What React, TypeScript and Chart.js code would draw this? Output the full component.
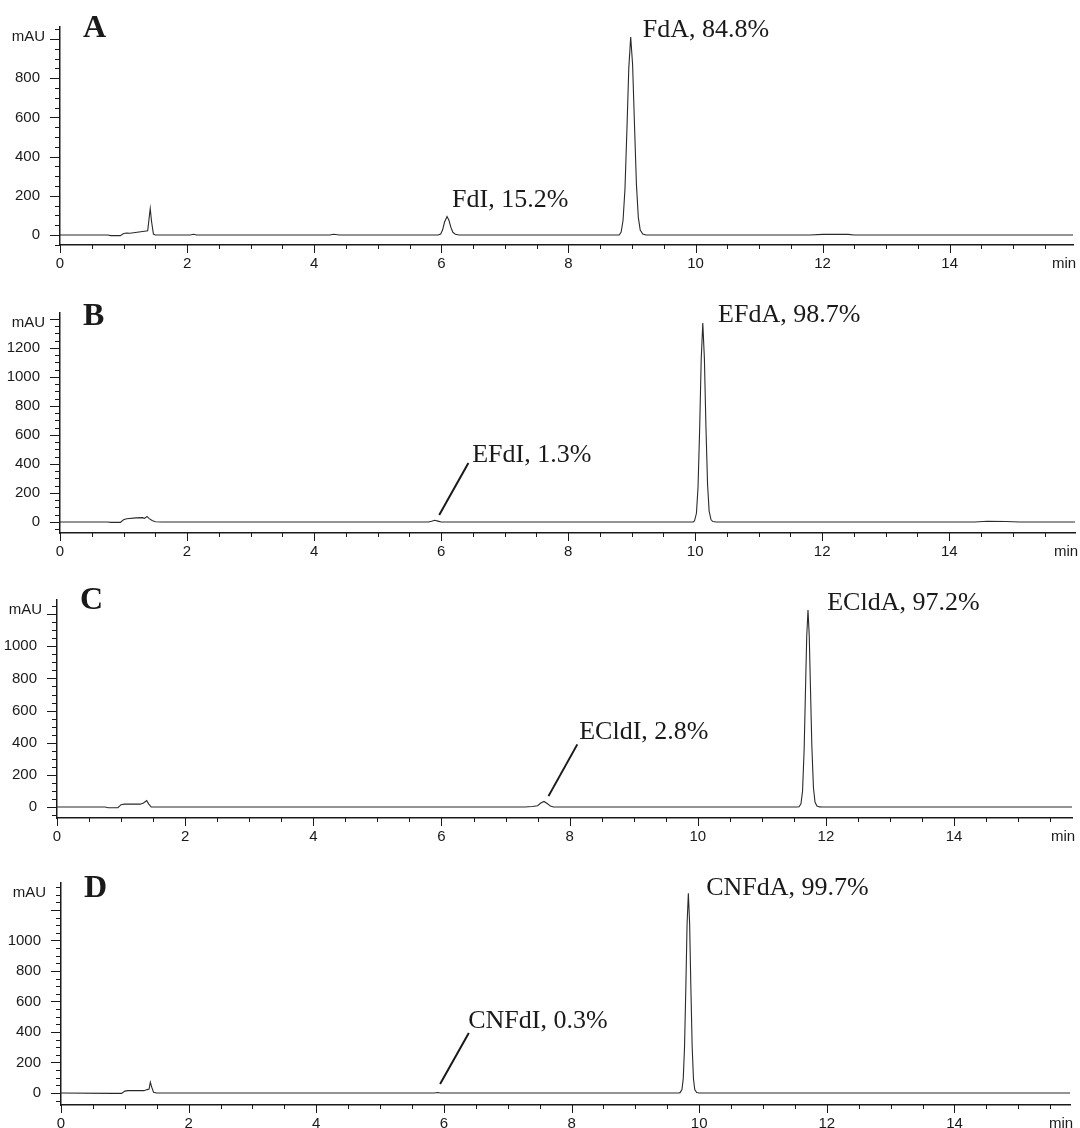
import React, { useEffect, useRef } from 'react';
import { Chart, registerables } from 'chart.js';

Chart.register(...registerables);

// ---------- Data (retention time in min, absorbance in mAU) ----------
const timesA = [0, 0.75, 0.8, 0.95, 1.0, 1.05, 1.1, 1.3, 1.38, 1.4, 1.42, 1.44, 1.47, 1.5, 2.05, 2.1, 2.15, 4.25, 4.3, 4.4, 5.95, 5.99, 6.02, 6.05, 6.09, 6.12, 6.15, 6.18, 6.22, 6.28, 8.8, 8.83, 8.86, 8.89, 8.92, 8.95, 8.98, 9.01, 9.04, 9.07, 9.1, 9.13, 9.17, 9.22, 11.8, 12.0, 12.4, 12.5, 15.94];
const valuesA = [0, 0, -3, -3, 8, 10, 9, 18, 22, 80, 135, 70, 5, 0, 0, 4, 0, 0, 4, 0, 0, 5, 25, 65, 94, 75, 40, 15, 4, 0, 0, 15, 75, 235, 530, 850, 1010, 870, 560, 260, 90, 25, 5, 0, 0, 3, 3, 0, 0];

const timesB = [0, 0.75, 0.8, 0.95, 1.0, 1.05, 1.2, 1.3, 1.33, 1.37, 1.4, 1.45, 1.5, 1.6, 5.8, 5.85, 5.9, 5.95, 6.0, 9.97, 9.99, 10.02, 10.045, 10.07, 10.095, 10.12, 10.145, 10.17, 10.195, 10.22, 10.25, 10.28, 10.33, 14.4, 14.6, 14.9, 15.1, 15.98];
const valuesB = [0, 0, -3, -3, 15, 22, 28, 30, 25, 38, 25, 10, 2, 0, 0, 5, 12, 6, 0, 0, 8, 60, 240, 630, 1120, 1372, 1130, 650, 260, 75, 15, 3, 0, 0, 5, 3, 0, 0];

const timesC = [0, 0.75, 0.8, 0.95, 1.0, 1.05, 1.3, 1.35, 1.4, 1.43, 1.47, 7.3, 7.42, 7.5, 7.55, 7.6, 7.65, 7.7, 7.75, 11.55, 11.58, 11.61, 11.635, 11.66, 11.685, 11.7, 11.72, 11.74, 11.755, 11.78, 11.805, 11.83, 11.86, 11.9, 11.95, 15.84];
const valuesC = [0, 0, -4, -4, 15, 18, 18, 25, 40, 20, 0, 0, 4, 8, 25, 35, 22, 6, 0, 0, 2, 20, 100, 360, 800, 1060, 1226, 1060, 800, 380, 120, 30, 6, 1, 0, 0];

const timesD = [0, 0.8, 0.95, 1.0, 1.05, 1.3, 1.35, 1.38, 1.4, 1.42, 1.45, 1.5, 5.85, 5.9, 5.95, 9.68, 9.7, 9.73, 9.75, 9.77, 9.79, 9.81, 9.83, 9.85, 9.87, 9.89, 9.91, 9.93, 9.96, 10.0, 15.81];
const valuesD = [0, -3, -3, 12, 15, 15, 22, 25, 70, 40, 5, 0, 0, 3, 0, 0, 2, 22, 95, 300, 680, 1110, 1310, 1110, 680, 300, 95, 22, 3, 0, 0];

// ---------- Tick labels ----------
const xTickLabels = [0, 2, 4, 6, 8, 10, 12, 14];
const yTickLabelsA = [0, 200, 400, 600, 800];
const yTickLabelsB = [0, 200, 400, 600, 800, 1000, 1200];
const yTickLabelsC = [0, 200, 400, 600, 800, 1000];
const yTickLabelsD = [0, 200, 400, 600, 800, 1000];

// ---------- Peak annotations ----------
const peakLabelsA = ['FdA, 84.8%', 'FdI, 15.2%'];
const peakLabelsB = ['EFdA, 98.7%', 'EFdI, 1.3%'];
const peakLabelsC = ['ECldA, 97.2%', 'ECldI, 2.8%'];
const peakLabelsD = ['CNFdA, 99.7%', 'CNFdI, 0.3%'];

const SANS = '"Liberation Sans", Arial, sans-serif';
const SERIF = '"Liberation Serif", "Times New Roman", serif';
const INK = '#1a1a1a';

type Panel = {
  letter: string;
  times: number[];
  values: number[];
  yLabels: number[];
  labels: string[];
  anchors: { x: number; y: number }[];
  leader?: { x1: number; y1: number; x2: number; y2: number };
  top: number;
  height: number;
  areaTop: number;
  areaBottom: number;
  areaLeft: number;
  areaRight: number;
  yMin: number;
  yMax: number;
  xMax: number;
  letterDy: number;
};

const panels: Panel[] = [
  {
    letter: 'A', times: timesA, values: valuesA, yLabels: yTickLabelsA, labels: peakLabelsA,
    anchors: [{ x: 9.17, y: 1010 }, { x: 6.17, y: 143 }],
    top: 0, height: 282, areaTop: 27, areaBottom: 245, areaLeft: 60, areaRight: 1073,
    yMin: -51, yMax: 1061, xMax: 15.94, letterDy: 10,
  },
  {
    letter: 'B', times: timesB, values: valuesB, yLabels: yTickLabelsB, labels: peakLabelsB,
    anchors: [{ x: 10.36, y: 1379 }, { x: 6.49, y: 414 }],
    leader: { x1: 6.43, y1: 407, x2: 5.97, y2: 48 },
    top: 282, height: 284, areaTop: 31, areaBottom: 251, areaLeft: 60, areaRight: 1075,
    yMin: -76, yMax: 1441, xMax: 15.98, letterDy: 12,
  },
  {
    letter: 'C', times: timesC, values: valuesC, yLabels: yTickLabelsC, labels: peakLabelsC,
    anchors: [{ x: 12.02, y: 1226 }, { x: 8.15, y: 421 }],
    leader: { x1: 8.12, y1: 390, x2: 7.67, y2: 68 },
    top: 566, height: 284, areaTop: 34, areaBottom: 252, areaLeft: 57, areaRight: 1072,
    yMin: -68, yMax: 1288, xMax: 15.84, letterDy: 9,
  },
  {
    letter: 'D', times: timesD, values: valuesD, yLabels: yTickLabelsD, labels: peakLabelsD,
    anchors: [{ x: 10.11, y: 1298 }, { x: 6.38, y: 426 }],
    leader: { x1: 6.39, y1: 393, x2: 5.94, y2: 59 },
    top: 850, height: 278, areaTop: 33, areaBottom: 255, areaLeft: 61, areaRight: 1070,
    yMin: -79, yMax: 1377, xMax: 15.81, letterDy: 14,
  },
];

const X_AXIS_H = 15;

function makeDecor(p: Panel) {
  return {
    id: 'decor' + p.letter,
    afterDraw(chart: any) {
      const { ctx, chartArea } = chart;
      const xs = chart.scales.x;
      const ys = chart.scales.y;
      ctx.save();
      ctx.strokeStyle = INK;
      ctx.lineWidth = 1;
      // x ticks (downward) and their labels
      ctx.fillStyle = INK;
      ctx.font = `15px ${SANS}`;
      ctx.textAlign = 'center';
      ctx.textBaseline = 'middle';
      xs.ticks.forEach((t: any) => {
        const px = Math.round(xs.getPixelForValue(t.value)) + 0.5;
        const major = Math.abs(t.value % 2) < 1e-9;
        ctx.beginPath();
        ctx.moveTo(px, chartArea.bottom);
        ctx.lineTo(px, chartArea.bottom + (major ? 8 : 4));
        ctx.stroke();
        if (xTickLabels.includes(t.value)) {
          ctx.fillText(String(t.value), xs.getPixelForValue(t.value), chartArea.bottom + 19);
        }
      });
      // y ticks (leftward)
      ys.ticks.forEach((t: any) => {
        const py = Math.round(ys.getPixelForValue(t.value)) + 0.5;
        const major = Math.abs(t.value % 200) < 1e-9;
        ctx.beginPath();
        ctx.moveTo(chartArea.left, py);
        ctx.lineTo(chartArea.left - (major ? 10 : 5), py);
        ctx.stroke();
      });
      // axis unit labels
      ctx.textAlign = 'right';
      ctx.fillText('mAU', chartArea.left - 15, chartArea.top + 10);
      ctx.textAlign = 'left';
      ctx.fillText('min', chartArea.right - 21, chartArea.bottom + 19);
      // panel letter
      ctx.font = `bold 32px ${SERIF}`;
      ctx.textBaseline = 'alphabetic';
      ctx.fillText(p.letter, chartArea.left + 23, chartArea.top + p.letterDy);
      // peak labels
      ctx.font = `26px ${SERIF}`;
      p.labels.forEach((txt, i) => {
        const a = p.anchors[i];
        ctx.fillText(txt, xs.getPixelForValue(a.x), ys.getPixelForValue(a.y));
      });
      // leader line
      if (p.leader) {
        ctx.lineWidth = 2;
        ctx.beginPath();
        ctx.moveTo(xs.getPixelForValue(p.leader.x1), ys.getPixelForValue(p.leader.y1));
        ctx.lineTo(xs.getPixelForValue(p.leader.x2), ys.getPixelForValue(p.leader.y2));
        ctx.stroke();
      }
      ctx.restore();
    },
  };
}

function PanelChart({ p }: { p: Panel }) {
  const ref = useRef<HTMLCanvasElement>(null);
  useEffect(() => {
    const xTicks: number[] = [];
    for (let i = 0; i * 0.5 <= p.xMax; i++) xTicks.push(i * 0.5);
    const yTicks: number[] = [];
    for (let v = Math.ceil(p.yMin / 50) * 50; v <= p.yMax; v += 50) yTicks.push(v);

    const chart = new Chart(ref.current as HTMLCanvasElement, {
      type: 'line',
      data: {
        datasets: [
          {
            data: p.times.map((t, i) => ({ x: t, y: p.values[i] })),
            borderColor: '#2a2a2a',
            borderWidth: 1.1,
            pointRadius: 0,
            tension: 0,
            fill: false,
          },
        ],
      },
      options: {
        responsive: false,
        animation: false,
        devicePixelRatio: 1,
        layout: {
          padding: {
            top: p.areaTop,
            left: 0,
            right: 1080 - p.areaRight,
            bottom: p.height - p.areaBottom - X_AXIS_H,
          },
        },
        plugins: { legend: { display: false }, tooltip: { enabled: false } },
        scales: {
          x: {
            type: 'linear',
            min: 0,
            max: p.xMax,
            grid: { display: false },
            border: { display: true, color: INK, width: 1.5 },
            afterBuildTicks: (s: any) => {
              s.ticks = xTicks.map((v) => ({ value: v }));
            },
            afterFit: (s: any) => {
              s.height = X_AXIS_H;
            },
            ticks: { display: false, autoSkip: false },
          },
          y: {
            type: 'linear',
            min: p.yMin,
            max: p.yMax,
            grid: { display: false },
            border: { display: true, color: INK, width: 1.5 },
            afterBuildTicks: (s: any) => {
              s.ticks = yTicks.map((v) => ({ value: v }));
            },
            afterFit: (s: any) => {
              s.width = p.areaLeft;
            },
            ticks: {
              autoSkip: false,
              padding: 12,
              color: INK,
              font: { family: SANS, size: 15 },
              callback: (v: any) => (p.yLabels.includes(Number(v)) ? String(v) : ''),
            },
          },
        },
      },
      plugins: [makeDecor(p)],
    } as any);
    return () => chart.destroy();
  }, [p]);

  return (
    <canvas
      ref={ref}
      width={1080}
      height={p.height}
      style={{ position: 'absolute', left: 0, top: p.top, width: 1080, height: p.height }}
    />
  );
}

export default function App() {
  return (
    <div style={{ position: 'absolute', left: 0, top: 0, width: 1080, height: 1128, background: '#fff', overflow: 'hidden' }}>
      {panels.map((p) => (
        <PanelChart key={p.letter} p={p} />
      ))}
    </div>
  );
}
